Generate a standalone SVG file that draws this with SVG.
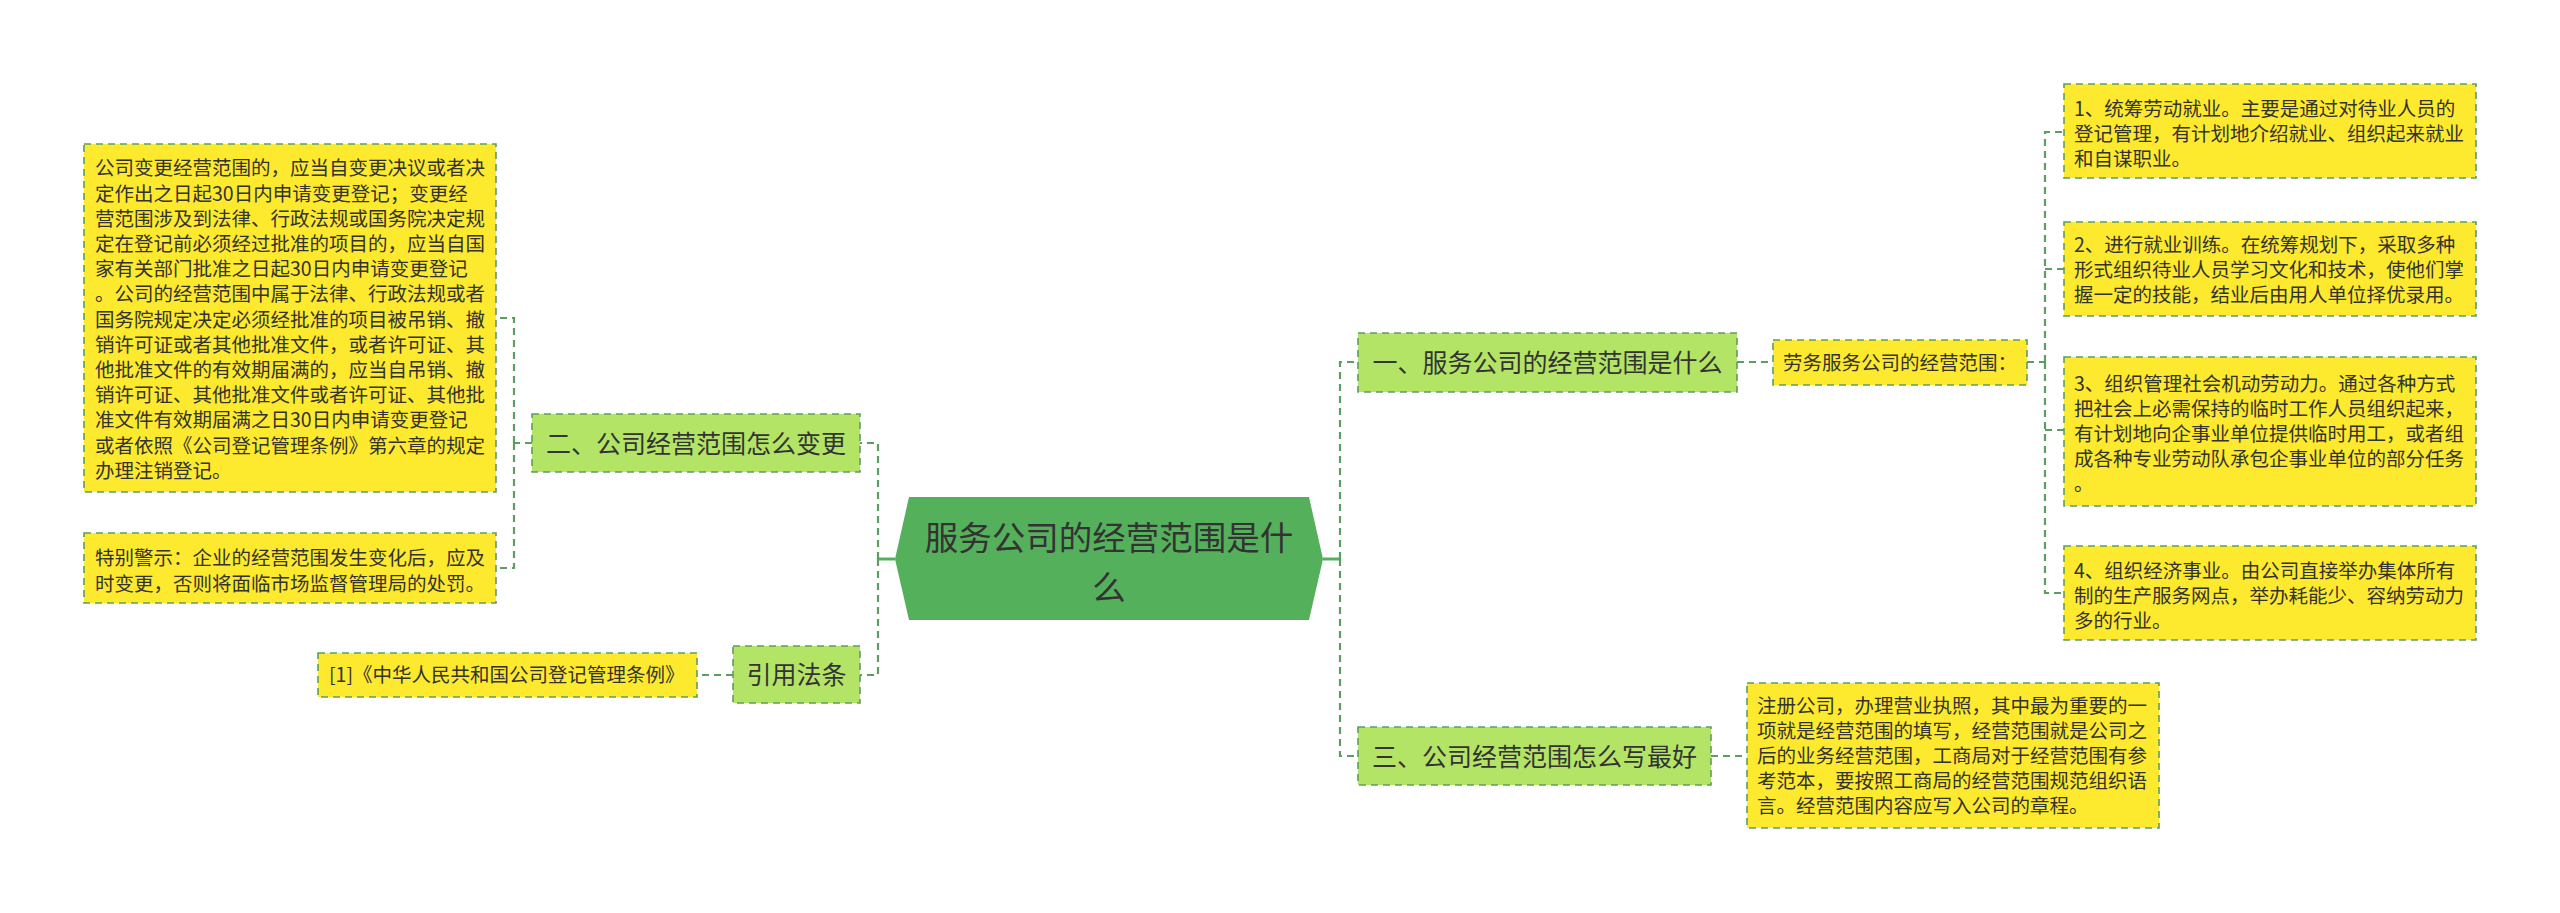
<svg xmlns="http://www.w3.org/2000/svg" width="2560" height="913" viewBox="0 0 2560 913">
<style>
text{font-family:"Noto Sans CJK SC","Noto Sans",sans-serif;fill:#333333;}
.leaf{fill:#FDE92E;stroke:#5C9E5F;stroke-width:1.6;stroke-dasharray:7 5;}
.sub{fill:#B3E466;stroke:#5C9E5F;stroke-width:1.6;stroke-dasharray:7 5;}
.t19{font-size:19.5px;}
.t25{font-size:25px;}
.t33{font-size:33.5px;}
.c{fill:none;stroke:#5C9E5F;stroke-width:2.2;stroke-dasharray:7 5;}
.s{fill:none;stroke:#55B05B;stroke-width:3;}
</style>
<rect width="2560" height="913" fill="#ffffff"/>
<g id="connectors">
<path class="s" d="M895 559 H878"/>
<path class="c" d="M878 559 V443 H860 M878 559 V675 H860"/>
<path class="c" d="M532 443 H514 M514 443 V318 H496 M514 443 V568 H496"/>
<path class="c" d="M733 675 H697"/>
<path class="s" d="M1323 559 H1340"/>
<path class="c" d="M1340 559 V362 H1358 M1340 559 V756 H1358"/>
<path class="c" d="M1737 362 H1773"/>
<path class="c" d="M2027 362 H2045 M2045 362 V132 H2064 M2045 269 H2064 M2045 362 V593 H2064 M2045 430 H2064"/>
<path class="c" d="M1711 756 H1747"/>
</g>
<g id="root">
<polygon points="909,497 1309,497 1323,559 1309,620 909,620 895,559" fill="#55B05B"/>
<text class="t33" x="1109" y="550" text-anchor="middle">服务公司的经营范围是什</text>
<text class="t33" x="1109" y="600" text-anchor="middle">么</text>
</g>
<g id="n1">
<rect class="sub" x="1358" y="333" width="379" height="59"/>
<text class="t25" x="1547.5" y="371.5" text-anchor="middle">一、服务公司的经营范围是什么</text>
</g>
<g id="n1a">
<rect class="leaf" x="1773" y="340" width="254" height="45"/>
<text class="t19" x="1900" y="369.5" text-anchor="middle">劳务服务公司的经营范围：</text>
</g>
<g id="r1">
<rect class="leaf" x="2064" y="84" width="412" height="94"/>
<text class="t19" x="2074"><tspan x="2074" y="115.5">1、统筹劳动就业。主要是通过对待业人员的</tspan><tspan x="2074" y="140.5">登记管理，有计划地介绍就业、组织起来就业</tspan><tspan x="2074" y="165.5">和自谋职业。</tspan></text>
</g>
<g id="r2">
<rect class="leaf" x="2064" y="222" width="412" height="94"/>
<text class="t19" x="2074"><tspan x="2074" y="251.5">2、进行就业训练。在统筹规划下，采取多种</tspan><tspan x="2074" y="276.5">形式组织待业人员学习文化和技术，使他们掌</tspan><tspan x="2074" y="301.5">握一定的技能，结业后由用人单位择优录用。</tspan></text>
</g>
<g id="r3">
<rect class="leaf" x="2064" y="357" width="412" height="149"/>
<text class="t19" x="2074"><tspan x="2074" y="390.5">3、组织管理社会机动劳动力。通过各种方式</tspan><tspan x="2074" y="415.5">把社会上必需保持的临时工作人员组织起来，</tspan><tspan x="2074" y="440.5">有计划地向企事业单位提供临时用工，或者组</tspan><tspan x="2074" y="465.5">成各种专业劳动队承包企事业单位的部分任务</tspan><tspan x="2074" y="490.5">。</tspan></text>
</g>
<g id="r4">
<rect class="leaf" x="2064" y="546" width="412" height="94"/>
<text class="t19" x="2074"><tspan x="2074" y="577.5">4、组织经济事业。由公司直接举办集体所有</tspan><tspan x="2074" y="602.5">制的生产服务网点，举办耗能少、容纳劳动力</tspan><tspan x="2074" y="627.5">多的行业。</tspan></text>
</g>
<g id="n3">
<rect class="sub" x="1358" y="727" width="353" height="58"/>
<text class="t25" x="1534.5" y="765.5" text-anchor="middle">三、公司经营范围怎么写最好</text>
</g>
<g id="n3a">
<rect class="leaf" x="1747" y="683" width="412" height="145"/>
<text class="t19" x="1757"><tspan x="1757" y="713">注册公司，办理营业执照，其中最为重要的一</tspan><tspan x="1757" y="738">项就是经营范围的填写，经营范围就是公司之</tspan><tspan x="1757" y="763">后的业务经营范围，工商局对于经营范围有参</tspan><tspan x="1757" y="788">考范本，要按照工商局的经营范围规范组织语</tspan><tspan x="1757" y="813">言。经营范围内容应写入公司的章程。</tspan></text>
</g>
<g id="n2">
<rect class="sub" x="532" y="414" width="328" height="58"/>
<text class="t25" x="696" y="452.5" text-anchor="middle">二、公司经营范围怎么变更</text>
</g>
<g id="l1">
<rect class="leaf" x="84" y="144" width="412" height="348"/>
<text class="t19" x="95"><tspan x="95" y="175.4">公司变更经营范围的，应当自变更决议或者决</tspan><tspan x="95" y="200.6">定作出之日起30日内申请变更登记；变更经</tspan><tspan x="95" y="225.8">营范围涉及到法律、行政法规或国务院决定规</tspan><tspan x="95" y="251">定在登记前必须经过批准的项目的，应当自国</tspan><tspan x="95" y="276.2">家有关部门批准之日起30日内申请变更登记</tspan><tspan x="95" y="301.4">。公司的经营范围中属于法律、行政法规或者</tspan><tspan x="95" y="326.6">国务院规定决定必须经批准的项目被吊销、撤</tspan><tspan x="95" y="351.8">销许可证或者其他批准文件，或者许可证、其</tspan><tspan x="95" y="377">他批准文件的有效期届满的，应当自吊销、撤</tspan><tspan x="95" y="402.2">销许可证、其他批准文件或者许可证、其他批</tspan><tspan x="95" y="427.4">准文件有效期届满之日30日内申请变更登记</tspan><tspan x="95" y="452.6">或者依照《公司登记管理条例》第六章的规定</tspan><tspan x="95" y="477.8">办理注销登记。</tspan></text>
</g>
<g id="l2">
<rect class="leaf" x="84" y="533" width="412" height="70"/>
<text class="t19" x="95"><tspan x="95" y="564.5">特别警示：企业的经营范围发生变化后，应及</tspan><tspan x="95" y="591">时变更，否则将面临市场监督管理局的处罚。</tspan></text>
</g>
<g id="n4">
<rect class="sub" x="733" y="646" width="127" height="57"/>
<text class="t25" x="796.5" y="684" text-anchor="middle">引用法条</text>
</g>
<g id="n4a">
<rect class="leaf" x="318" y="653" width="379" height="44"/>
<text class="t19" x="329" y="682">[1]《中华人民共和国公司登记管理条例》</text>
</g>
</svg>
